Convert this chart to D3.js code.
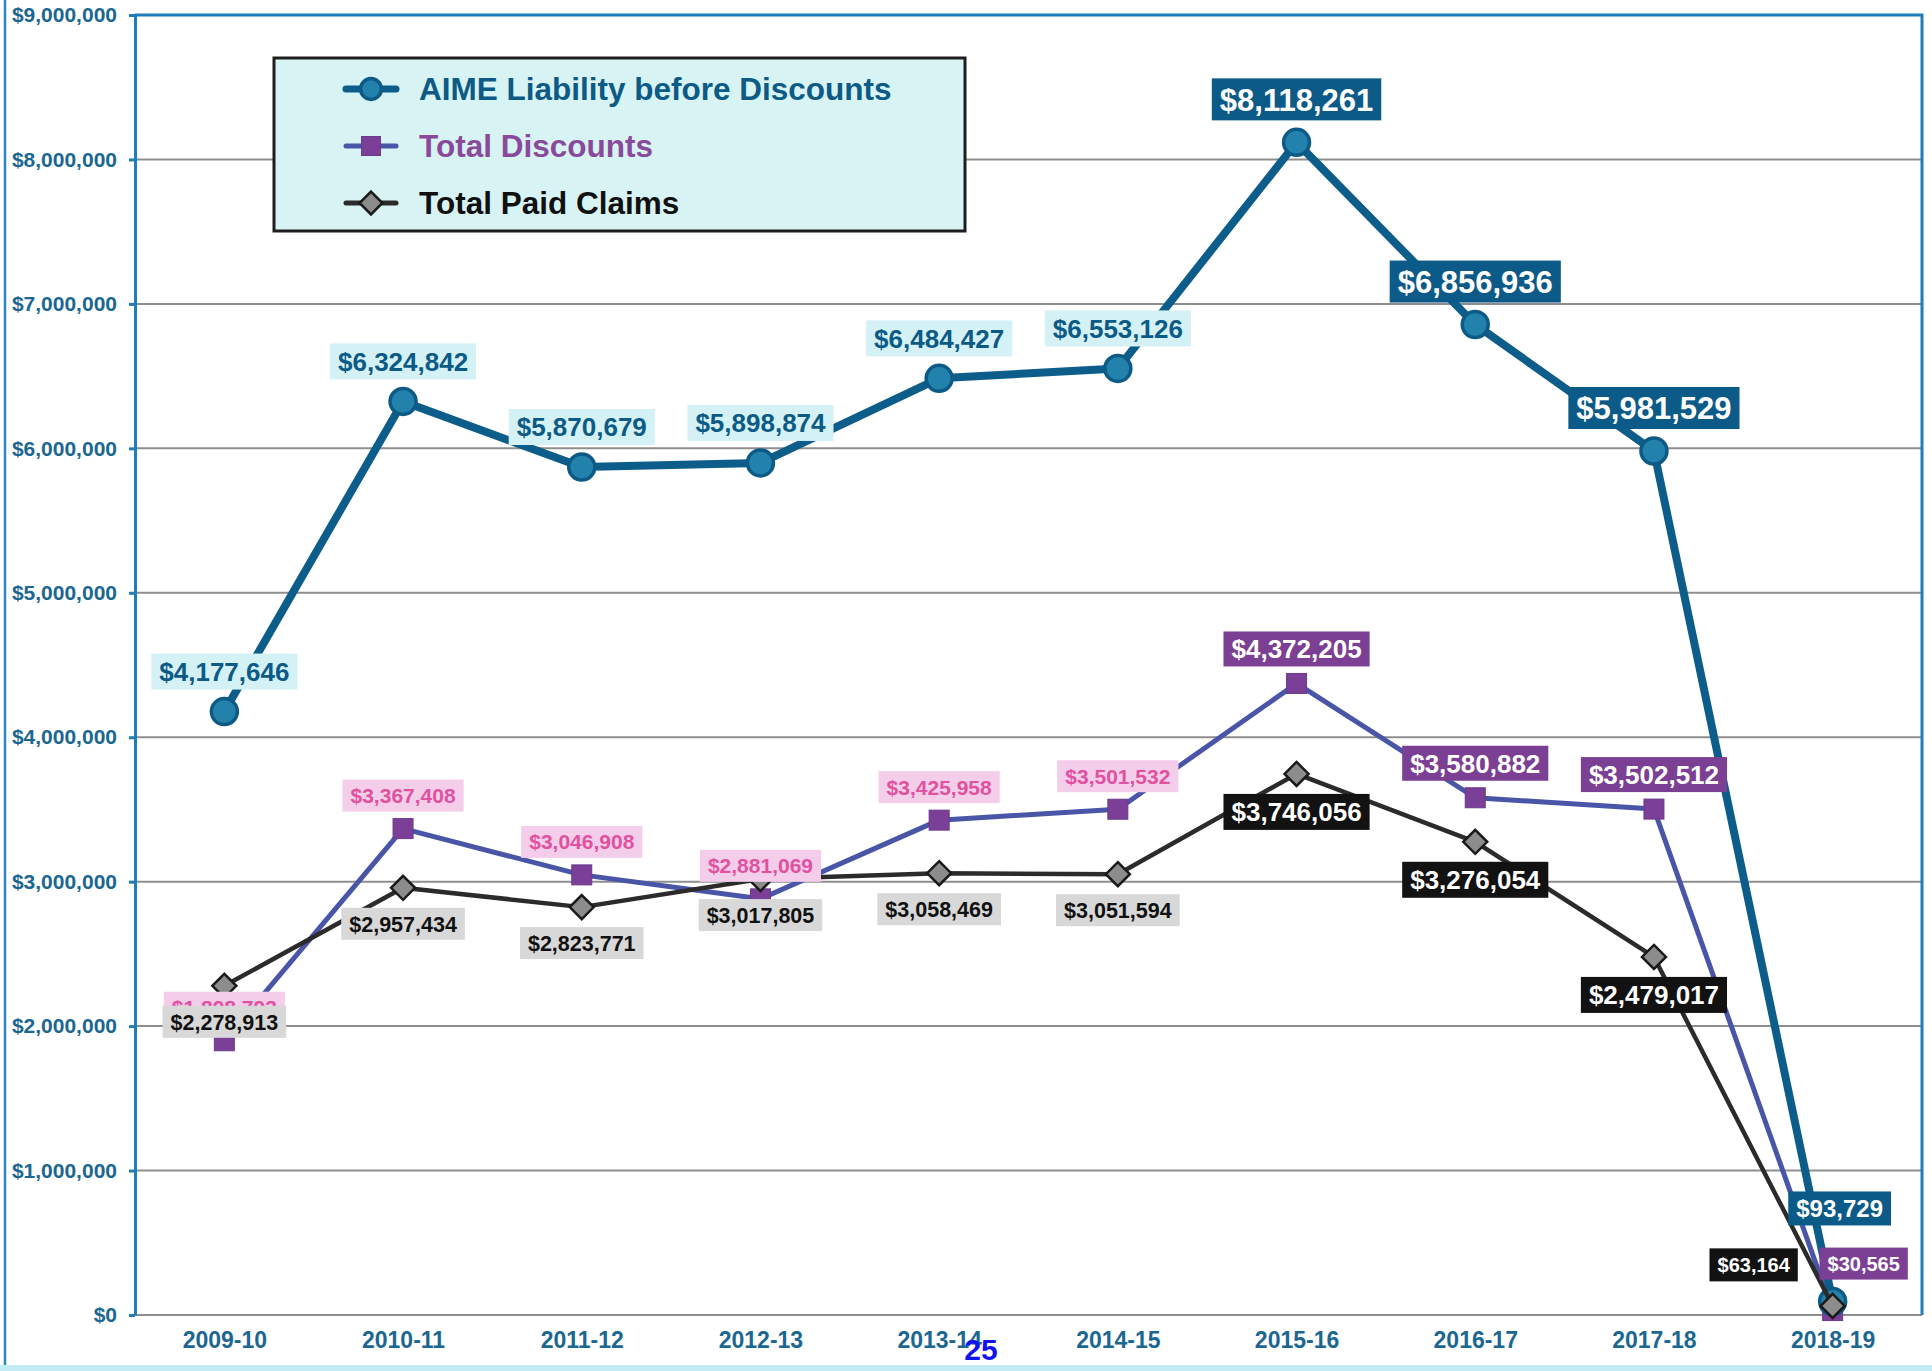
<!DOCTYPE html>
<html>
<head>
<meta charset="utf-8">
<script src="https://cdn.jsdelivr.net/npm/d3@7"></script>
<style>
  body { margin: 0; background: #fff; }
  svg { display: block; font-family: "Liberation Sans", Arial, sans-serif; }
</style>
</head>
<body>
<div id="chart"></div>
<script>
// data
const categories = ['2009-10', '2010-11', '2011-12', '2012-13', '2013-14', '2014-15', '2015-16', '2016-17', '2017-18', '2018-19'];
const aimeLiability = [4177646, 6324842, 5870679, 5898874, 6484427, 6553126, 8118261, 6856936, 5981529, 93729];
const totalDiscounts = [1898793, 3367408, 3046908, 2881069, 3425958, 3501532, 4372205, 3580882, 3502512, 30565];
const totalPaidClaims = [2278913, 2957434, 2823771, 3017805, 3058469, 3051594, 3746056, 3276054, 2479017, 63164];
const yTicks = [0, 1000000, 2000000, 3000000, 4000000, 5000000, 6000000, 7000000, 8000000, 9000000];
const seriesNames = ['AIME Liability before Discounts', 'Total Discounts', 'Total Paid Claims'];

// 1. svg + margin convention
const W = 1932, H = 1371;
const margin = { top: 15, right: 10, bottom: 56, left: 135 };
const width = W - margin.left - margin.right;
const height = H - margin.top - margin.bottom;

const svg = d3.select('#chart').append('svg')
    .attr('width', W)
    .attr('height', H);

// page frame bits
svg.append('line')
    .attr('x1', 5).attr('x2', 5).attr('y1', 0).attr('y2', H)
    .attr('stroke', '#2a86c4').attr('stroke-width', 2.5);
svg.append('rect')
    .attr('x', 0).attr('y', H - 6).attr('width', W).attr('height', 6)
    .attr('fill', '#c4ecf6');

const group = svg.append('g')
    .attr('transform', 'translate(' + margin.left + ',' + margin.top + ')');

// 2. scales
const xScale = d3.scalePoint().domain(categories).range([0, width]).padding(0.5);
const yScale = d3.scaleLinear().domain([0, 9000000]).range([height, 0]);

const axisBlue = '#1f7dbb';
const labelBlue = '#1b6792';

// gridlines
group.append('g')
    .selectAll('line')
    .data(yTicks.slice(0, -1))
    .join('line')
    .attr('x1', 0).attr('x2', width)
    .attr('y1', d => yScale(d)).attr('y2', d => yScale(d))
    .attr('stroke', '#8e8e8e')
    .attr('stroke-width', 2);

// top + right border
group.append('path')
    .attr('d', 'M0,0H' + width + 'V' + height)
    .attr('fill', 'none')
    .attr('stroke', axisBlue)
    .attr('stroke-width', 3);

// y axis
const yAxis = d3.axisLeft(yScale)
    .tickValues(yTicks)
    .tickFormat(d3.format('$,'))
    .tickSize(6)
    .tickSizeOuter(0)
    .tickPadding(12);
const yAxisGroup = group.append('g').call(yAxis);
yAxisGroup.select('.domain').attr('stroke', axisBlue).attr('stroke-width', 3);
yAxisGroup.selectAll('.tick line').attr('stroke', axisBlue).attr('stroke-width', 3);
yAxisGroup.selectAll('.tick text')
    .attr('fill', labelBlue)
    .style('font-size', '21px')
    .style('font-weight', 'bold');

// x axis (labels only)
const xAxis = d3.axisBottom(xScale).tickSize(0).tickPadding(17);
const xAxisGroup = group.append('g')
    .attr('transform', 'translate(0,' + height + ')')
    .call(xAxis);
xAxisGroup.select('.domain').remove();
xAxisGroup.selectAll('.tick text')
    .attr('fill', labelBlue)
    .style('font-size', '23px')
    .style('font-weight', 'bold');

// series styling
const series = [
    {
        name: seriesNames[1], values: totalDiscounts, line: '#4955a7', lineWidth: 5,
        marker: 'square', fill: '#7b3f98', stroke: '#6a3a8c',
        light: { bg: '#f3cdea', fg: '#e0529f', size: 21, weight: 'bold', h: 32 },
        dark: { bg: '#7b3f93', fg: '#ffffff', size: 26, weight: 'bold', h: 35 },
        last: { size: 20, h: 32, dx: 31, dy: -47 },
        above: true, gap: 17
    },
    {
        name: seriesNames[0], values: aimeLiability, line: '#0d5d8b', lineWidth: 8,
        marker: 'circle', fill: '#2382ab', stroke: '#0c5a86',
        light: { bg: '#d4f2f6', fg: '#0c5a86', size: 26, weight: 'bold', h: 36 },
        dark: { bg: '#0b5a87', fg: '#ffffff', size: 31, weight: 'bold', h: 42 },
        last: { size: 24, h: 34, dx: 7, dy: -93 },
        above: true, gap: 22
    },
    {
        name: seriesNames[2], values: totalPaidClaims, line: '#2b2b2b', lineWidth: 4.5,
        marker: 'diamond', fill: '#8c8c8c', stroke: '#1a1a1a',
        light: { bg: '#d8d8d8', fg: '#111111', size: 21.5, weight: 'bold', h: 32 },
        dark: { bg: '#121212', fg: '#ffffff', size: 26, weight: 'bold', h: 36 },
        last: { size: 20, h: 33, dx: -79, dy: -41 },
        above: false, gap: 20
    }
];

function drawMarker(sel, s, scale) {
    const k = scale || 1;
    if (s.marker === 'circle') {
        sel.append('circle').attr('r', 13 * k)
            .attr('fill', s.fill).attr('stroke', s.stroke).attr('stroke-width', 3.5);
    } else if (s.marker === 'square') {
        sel.append('rect')
            .attr('x', -10 * k).attr('y', -10 * k).attr('width', 20 * k).attr('height', 20 * k)
            .attr('fill', s.fill).attr('stroke', s.stroke).attr('stroke-width', 1);
    } else {
        const r = 12 * k;
        sel.append('path')
            .attr('d', 'M0,' + (-r) + 'L' + r + ',0L0,' + r + 'L' + (-r) + ',0Z')
            .attr('fill', s.fill).attr('stroke', s.stroke).attr('stroke-width', 2.5);
    }
}

const line = d3.line()
    .x((d, i) => xScale(categories[i]))
    .y(d => yScale(d));

series.forEach(s => {
    group.append('path')
        .datum(s.values)
        .attr('d', line)
        .attr('fill', 'none')
        .attr('stroke', s.line)
        .attr('stroke-width', s.lineWidth)
        .attr('stroke-linejoin', 'round');

    group.append('g')
        .selectAll('g')
        .data(s.values)
        .join('g')
        .attr('transform', (d, i) => 'translate(' + xScale(categories[i]) + ',' + yScale(d) + ')')
        .each(function () { drawMarker(d3.select(this), s); });
});

// data labels, drawn in legend order so paid claims sit on top
const labelOrder = [series[1], series[0], series[2]];
labelOrder.forEach(s => {
    s.values.forEach((v, i) => {
        const isDark = i >= 6;
        const isLast = i === s.values.length - 1;
        const st = isDark ? s.dark : s.light;
        const size = isLast ? s.last.size : st.size;
        const h = isLast ? s.last.h : st.h;
        let cx = xScale(categories[i]);
        let cy = yScale(v);
        if (isLast) {
            cx += s.last.dx;
            cy += s.last.dy;
        } else {
            cy += s.above ? -(s.gap + h / 2) : (s.gap + h / 2);
        }
        const lg = group.append('g').attr('transform', 'translate(' + cx + ',' + cy + ')');
        const rect = lg.append('rect').attr('fill', st.bg);
        const txt = lg.append('text')
            .attr('text-anchor', 'middle')
            .attr('dy', '0.36em')
            .attr('fill', st.fg)
            .style('font-size', size + 'px')
            .style('font-weight', st.weight)
            .text(d3.format('$,')(v));
        const tw = txt.node().getComputedTextLength();
        rect.attr('x', -tw / 2 - 8).attr('y', -h / 2)
            .attr('width', tw + 16).attr('height', h);
    });
});

// legend
const legend = svg.append('g').attr('transform', 'translate(274,58)');
legend.append('rect')
    .attr('width', 691).attr('height', 173)
    .attr('fill', '#d8f3f3')
    .attr('stroke', '#1e1e1e')
    .attr('stroke-width', 3);
const legendColors = ['#0c5a86', '#8a4a9c', '#111111'];
[series[1], series[0], series[2]].forEach((s, i) => {
    const row = legend.append('g').attr('transform', 'translate(0,' + (31 + i * 57) + ')');
    row.append('line')
        .attr('x1', 72).attr('x2', 122)
        .attr('stroke', s.line)
        .attr('stroke-width', i === 0 ? 7 : 5)
        .attr('stroke-linecap', 'round');
    const m = row.append('g').attr('transform', 'translate(97,0)');
    drawMarker(m, s, i === 0 ? 0.8 : 0.95);
    row.append('text')
        .attr('x', 145)
        .attr('dy', '0.36em')
        .attr('fill', legendColors[i])
        .style('font-size', '31.5px')
        .style('font-weight', 'bold')
        .text(seriesNames[i]);
});

// page number
svg.append('text')
    .attr('x', 981).attr('y', 1360)
    .attr('text-anchor', 'middle')
    .attr('fill', '#1212ee')
    .style('font-family', '"Liberation Sans Narrow", "Arial Narrow", "Liberation Sans", sans-serif')
    .style('font-size', '30px')
    .style('font-weight', 'bold')
    .text('25');
</script>
</body>
</html>
